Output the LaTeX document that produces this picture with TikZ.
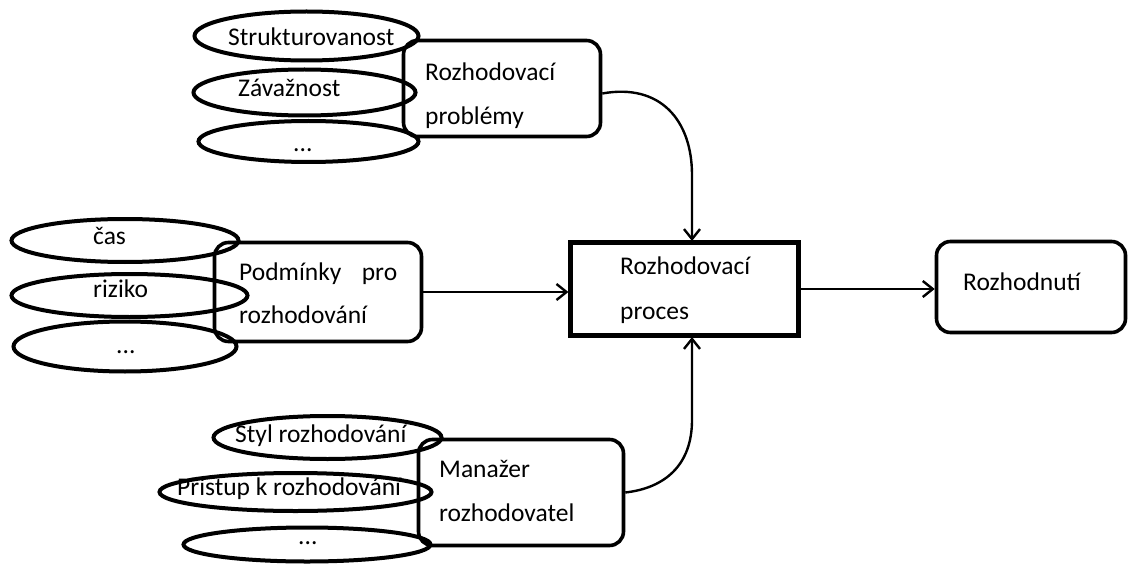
\documentclass[tikz,border=0pt]{standalone}
\usepackage{fontspec}
\setmainfont{Carlito}
\usetikzlibrary{shapes.geometric,arrows.meta}
\begin{document}
\begin{tikzpicture}[x=1pt,y=-1pt,
  ell/.style={draw,ellipse,line width=4pt,inner sep=0pt},
  rbox/.style={draw,rounded corners=14pt,line width=3.6pt,inner sep=0pt},
  sbox/.style={draw,line width=4.2pt,inner sep=0pt},
  txt/.style={anchor=base west,inner sep=0pt,font=\fontsize{25.5}{30}\selectfont},
  conn/.style={line width=2.4pt,-{Straight Barb[length=10pt,width=16pt,line width=2.4pt]}}]
\useasboundingbox (0,0) rectangle (1129,564);
% top group
\node[ell,minimum width=224pt,minimum height=49pt] (e1) at (306.5,36) {};
\node[ell,minimum width=222pt,minimum height=46pt] (e2) at (304.5,92.5) {};
\node[ell,minimum width=220pt,minimum height=41pt] (e3) at (308.5,141.5) {};
\node[rbox,minimum width=197pt,minimum height=96pt] (pb) at (502,88.5) {};
\node[txt] (t1) at (228,46) {Strukturovanost};
\node[txt] (t2) at (238,97) {Závažnost};
\node[txt] (t3) at (293,152) {...};
\node[txt] (pb1) at (425,81) {Rozhodovací};
\node[txt] (pb2) at (425,125) {problémy};
% left group
\node[ell,minimum width=227pt,minimum height=43pt] (l1) at (125,240.5) {};
\node[ell,minimum width=236pt,minimum height=43pt] (l2) at (129.5,295.5) {};
\node[ell,minimum width=223pt,minimum height=50pt] (l3) at (125,346.5) {};
\node[rbox,minimum width=207pt,minimum height=99pt] (pp) at (318,292) {};
\node[txt] (lt1) at (93,244) {čas};
\node[txt] (lt2) at (93,297) {riziko};
\node[txt] (lt3) at (116,353) {...};
\node[txt,text width=158pt] (pp1) at (239,280) {Podmínky\hfill pro};
\node[txt] (pp2) at (239,323) {rozhodování};
% bottom group
\node[ell,minimum width=228pt,minimum height=43pt] (b1) at (327.5,437.5) {};
\node[ell,minimum width=272pt,minimum height=38pt] (b2) at (295.5,492) {};
\node[ell,minimum width=247pt,minimum height=34pt] (b3) at (307,544.5) {};
\node[rbox,minimum width=205pt,minimum height=106pt] (pm) at (521,492.5) {};
\node[txt] (bt1) at (235,442) {Styl rozhodování};
\node[txt] (bt2) at (177,495) {Přístup k rozhodování};
\node[txt] (bt3) at (298,544) {...};
\node[txt] (pm1) at (439,477) {Manažer};
\node[txt] (pm2) at (439,521) {rozhodovatel};
% process and decision
\node[sbox,minimum width=228pt,minimum height=93pt] (pr) at (684.5,289) {};
\node[txt] (pr1) at (620,274) {Rozhodovací};
\node[txt] (pr2) at (620,319) {proces};
\node[rbox,minimum width=189pt,minimum height=91pt] (rn) at (1031,287) {};
\node[txt] (rn1) at (963,290) {Rozhodnutí};
% connectors
\coordinate (prtop) at (692,241);
\coordinate (prbot) at (692,337);
\draw[conn] ([yshift=-5pt]pb.east) .. controls (660,83) and (692,120) .. (692,175) -- (prtop);
\draw[conn] (pp.east) -- (pp.east -| pr.west);
\draw[conn] (pm.east) .. controls (665,488) and (692,465) .. (692,420) -- (prbot);
\draw[conn] (pr.east) -- (pr.east -| rn.west);
\end{tikzpicture}
\end{document}
